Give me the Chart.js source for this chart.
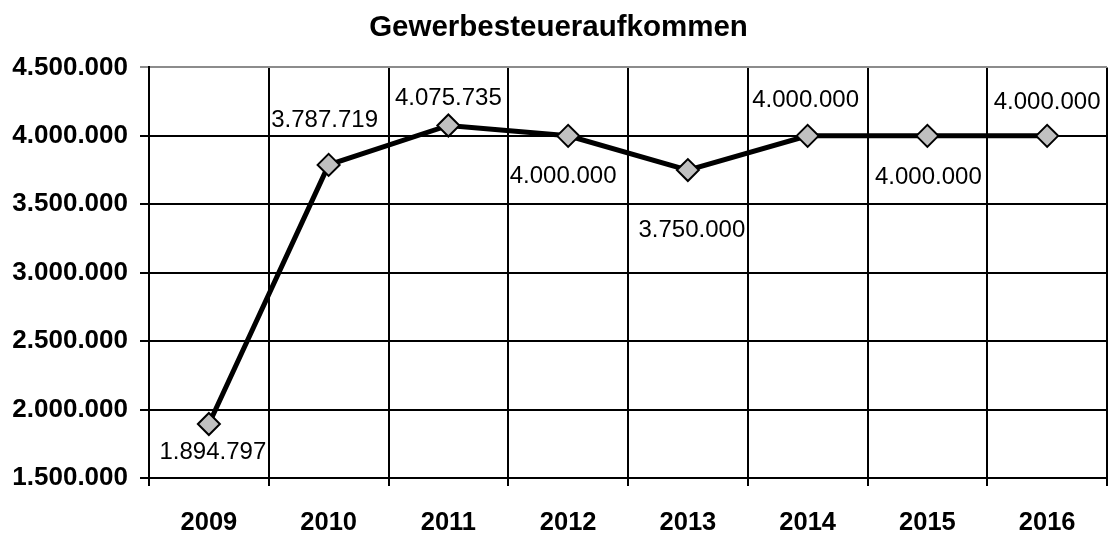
<!DOCTYPE html>
<html>
<head>
<meta charset="utf-8">
<script src="https://cdn.jsdelivr.net/npm/chart.js@4/dist/chart.umd.min.js"></script>
<style>
  html, body { margin: 0; padding: 0; background: #fff; overflow: hidden; }
</style>
</head>
<body>
<canvas id="gewChart" width="1120" height="534"></canvas>
<script>
const years = ['2009', '2010', '2011', '2012', '2013', '2014', '2015', '2016']
const aufkommen = [1894797, 3787719, 4075735, 4000000, 3750000, 4000000, 4000000, 4000000]
const yMin = 1500000
const yMax = 4500000
const yStep = 500000

const fontFamily = "'Liberation Sans', Arial, sans-serif"

// german thousands separator
const fmt = v => String(Math.round(v)).replace(/\B(?=(\d{3})+(?!\d))/g, '.')

// where each value label sits, relative to its point (dx, dy)
const labelOffsets = [[4, 28], [-4, -45], [0, -27], [-5, 41], [4, 60], [-2, -35], [1, 42], [0, -33]]

const valueLabels = {
    id: 'valueLabels',
    afterDatasetsDraw(chart) {
        const ctx = chart.ctx
        const meta = chart.getDatasetMeta(0)
        ctx.save()
        ctx.font = '24px ' + fontFamily
        ctx.fillStyle = '#000'
        ctx.textAlign = 'center'
        ctx.textBaseline = 'middle'
        meta.data.forEach((pt, i) => {
            const off = labelOffsets[i] || [0, -30]
            ctx.fillText(fmt(chart.data.datasets[0].data[i]), pt.x + off[0], pt.y + off[1])
        })
        ctx.restore()
    }
}

const ctx = document.getElementById('gewChart').getContext('2d')

const gewChart = new Chart(ctx, {
    type: 'line',
    data: {
        labels: years,
        datasets: [{
            label: 'Gewerbesteueraufkommen',
            data: aufkommen,
            borderColor: '#000',
            borderWidth: 5,
            tension: 0,
            pointStyle: 'rectRot',
            pointRadius: 11,
            pointHoverRadius: 11,
            pointBackgroundColor: '#c0c0c0',
            pointBorderColor: '#000',
            pointBorderWidth: 2,
            clip: false
        }]
    },
    options: {
        responsive: false,
        animation: false,
        layout: { padding: { left: 0, right: 3, top: 0, bottom: 0 } },
        plugins: {
            legend: { display: false },
            tooltip: { enabled: false },
            title: {
                display: true,
                text: 'Gewerbesteueraufkommen',
                color: '#000',
                font: { family: fontFamily, size: 29.5, weight: 'bold' },
                padding: { top: 10, bottom: 22 }
            }
        },
        scales: {
            x: {
                offset: true,
                grid: {
                    offset: true,
                    color: '#000',
                    lineWidth: 2,
                    drawTicks: true,
                    tickLength: 8
                },
                border: { color: '#000', width: 2 },
                ticks: {
                    color: '#000',
                    padding: 22,
                    maxRotation: 0,
                    font: { family: fontFamily, size: 25.5, weight: 'bold' }
                },
                afterFit: s => { s.height = 56 }
            },
            y: {
                min: yMin,
                max: yMax,
                grid: {
                    color: c => (c.tick && c.tick.value === yMax ? '#8c8c8c' : '#000'),
                    lineWidth: 2,
                    tickLength: 9
                },
                border: { color: '#000', width: 2 },
                ticks: {
                    stepSize: yStep,
                    color: '#000',
                    padding: 12,
                    font: { family: fontFamily, size: 26, weight: 'bold' },
                    callback: v => fmt(v)
                },
                afterFit: s => { s.width = 149 }
            }
        }
    },
    plugins: [valueLabels]
})
</script>
</body>
</html>
